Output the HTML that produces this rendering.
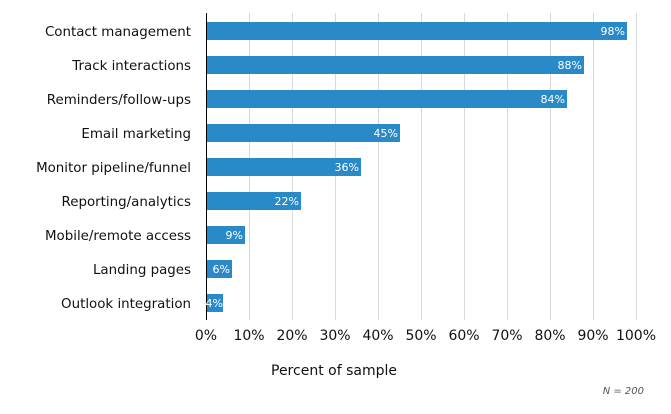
<!DOCTYPE html>
<html><head><style>body{margin:0;background:#fff}svg{display:block}text{font-family:"DejaVu Sans",Verdana,sans-serif}</style></head>
<body>
<svg width="671" height="414" xmlns="http://www.w3.org/2000/svg">
<g stroke="#d9d9d9" stroke-width="1">
<line x1="249.5" y1="13" x2="249.5" y2="320"/><line x1="292.5" y1="13" x2="292.5" y2="320"/><line x1="335.5" y1="13" x2="335.5" y2="320"/><line x1="378.5" y1="13" x2="378.5" y2="320"/><line x1="421.5" y1="13" x2="421.5" y2="320"/><line x1="464.5" y1="13" x2="464.5" y2="320"/><line x1="507.5" y1="13" x2="507.5" y2="320"/><line x1="550.5" y1="13" x2="550.5" y2="320"/><line x1="593.5" y1="13" x2="593.5" y2="320"/><line x1="636.5" y1="13" x2="636.5" y2="320"/>
</g>
<g fill="#2a8ac8">
<rect x="206" y="22" width="421" height="18"/>
<rect x="206" y="56" width="378" height="18"/>
<rect x="206" y="90" width="361" height="18"/>
<rect x="206" y="124" width="194" height="18"/>
<rect x="206" y="158" width="155" height="18"/>
<rect x="206" y="192" width="95" height="18"/>
<rect x="206" y="226" width="39" height="18"/>
<rect x="206" y="260" width="26" height="18"/>
<rect x="206" y="294" width="17" height="18"/>
</g>
<line x1="206.5" y1="13" x2="206.5" y2="320" stroke="#000"/>
<g font-size="13.4" fill="#111" text-anchor="end">
<text x="191" y="36">Contact management</text>
<text x="191" y="70">Track interactions</text>
<text x="191" y="104">Reminders/follow-ups</text>
<text x="191" y="138">Email marketing</text>
<text x="191" y="172">Monitor pipeline/funnel</text>
<text x="191" y="206">Reporting/analytics</text>
<text x="191" y="240">Mobile/remote access</text>
<text x="191" y="274">Landing pages</text>
<text x="191" y="308">Outlook integration</text>
</g>
<g font-size="11" fill="#fff" text-anchor="end">
<text x="625" y="35">98%</text>
<text x="582" y="69">88%</text>
<text x="565" y="103">84%</text>
<text x="398" y="137">45%</text>
<text x="359" y="171">36%</text>
<text x="299" y="205">22%</text>
<text x="243" y="239">9%</text>
<text x="230" y="273">6%</text>
<text x="223" y="307">4%</text>
</g>
<g font-size="14" fill="#111" text-anchor="middle">
<text x="206" y="340">0%</text><text x="249" y="340">10%</text><text x="292" y="340">20%</text><text x="335" y="340">30%</text><text x="378" y="340">40%</text><text x="421" y="340">50%</text><text x="464" y="340">60%</text><text x="507" y="340">70%</text><text x="550" y="340">80%</text><text x="593" y="340">90%</text><text x="636" y="340">100%</text>
<text x="334" y="375">Percent of sample</text>
</g>
<text x="644" y="394" font-size="10" font-style="italic" fill="#555" text-anchor="end">N = 200</text>
</svg>
</body></html>
